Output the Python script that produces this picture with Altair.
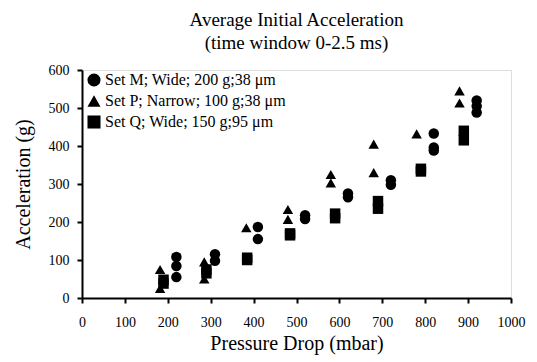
import altair as alt
import pandas as pd

# Set M (circles)
m_x = [220, 220, 220, 310, 310, 410, 410, 520, 520, 620, 620, 720, 720, 820, 820, 820, 920, 920, 920]
m_y = [108, 84, 55, 115, 98, 187, 155, 218, 208, 275, 265, 310, 298, 433, 396, 388, 520, 505, 488]
# Set P (triangles)
p_x = [182, 182, 285, 285, 383, 480, 480, 580, 580, 680, 680, 780, 880, 880]
p_y = [75, 25, 95, 50, 185, 233, 207, 325, 303, 405, 330, 432, 545, 513]
# Set Q (squares)
q_x = [190, 190, 290, 290, 385, 385, 485, 485, 590, 590, 690, 690, 790, 790, 890, 890]
q_y = [48, 38, 75, 65, 106, 100, 170, 165, 222, 210, 255, 235, 340, 333, 440, 415]

labels = ["Set M; Wide; 200 g;38 \u03bcm", "Set P; Narrow; 100 g;38 \u03bcm", "Set Q; Wide; 150 g;95 \u03bcm"]

rows = []
for xs, ys, lab in [(m_x, m_y, labels[0]), (p_x, p_y, labels[1]), (q_x, q_y, labels[2])]:
    for a, b in zip(xs, ys):
        rows.append({"pressure": a, "accel": b, "set": lab})
df = pd.DataFrame(rows)

FONT = "Liberation Serif"

chart = alt.Chart(df).mark_point(filled=True, opacity=1, size=110).encode(
    x=alt.X("pressure:Q",
            scale=alt.Scale(domain=[0, 1000], nice=False),
            axis=alt.Axis(values=list(range(0, 1001, 100)), format="d", title="Pressure Drop (mbar)",
                          grid=False, domainColor="black", domainWidth=2,
                          tickColor="black", tickWidth=2, tickSize=5,
                          labelFont=FONT, labelFontSize=14, labelColor="black", labelPadding=12,
                          labelFlush=False, labelOverlap=False,
                          titleFont=FONT, titleFontSize=20, titleFontWeight="normal",
                          titleColor="black", titlePadding=4)),
    y=alt.Y("accel:Q",
            scale=alt.Scale(domain=[0, 600], nice=False),
            axis=alt.Axis(values=list(range(0, 601, 100)), title="Acceleration (g)",
                          grid=False, domainColor="black", domainWidth=2,
                          tickColor="black", tickWidth=2, tickSize=5,
                          labelFont=FONT, labelFontSize=14, labelColor="black", labelPadding=8,
                          labelFlush=False,
                          titleFont=FONT, titleFontSize=20, titleFontWeight="normal",
                          titleColor="black", titlePadding=15)),
    shape=alt.Shape("set:N",
                    scale=alt.Scale(domain=labels, range=["circle", "triangle-up", "square"]),
                    legend=alt.Legend(title=None, orient="none", legendX=4, legendY=2,
                                      labelFont=FONT, labelFontSize=16, labelColor="black",
                                      labelLimit=400,
                                      symbolSize=170, symbolFillColor="black",
                                      symbolStrokeColor="black", symbolOpacity=1,
                                      rowPadding=2, labelOffset=3)),
    color=alt.value("black"),
).properties(
    width=429, height=228,
    title=alt.TitleParams(["Average Initial Acceleration", "(time window 0-2.5 ms)"],
                          font=FONT, fontSize=19, fontWeight="normal", color="black",
                          anchor="middle", offset=10, lineHeight=23),
    autosize=alt.AutoSizeParams(type="none"),
    padding={"left": 82, "top": 70, "right": 26, "bottom": 64},
).configure_view(stroke="black", strokeWidth=1).configure(background="white")

chart.save("out.html", embed_options={"renderer": "svg", "actions": False})
